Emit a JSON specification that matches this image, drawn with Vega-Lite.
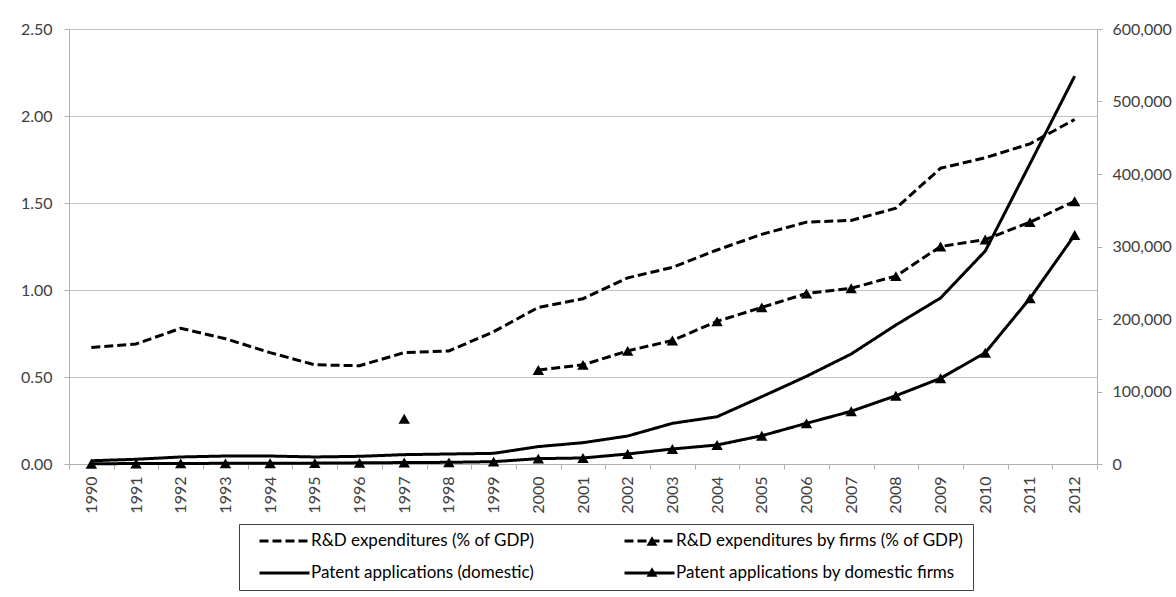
{
  "$schema": "https://vega.github.io/schema/vega-lite/v6.json",
  "width": 1028,
  "height": 435,
  "autosize": {"type": "none"},
  "padding": {"left": 69, "top": 29, "right": 79, "bottom": 133},
  "background": "white",
  "config": {
    "font": "Lato",
    "view": {"stroke": null},
    "axis": {
      "labelFont": "Lato",
      "labelFontSize": 16,
      "labelColor": "#404040",
      "domainColor": "#b0b0b0",
      "tickColor": "#b0b0b0",
      "gridColor": "#c4c4c4",
      "tickSize": 5
    },
    "legend": {"labelFont": "Lato"}
  },
  "data": {
    "values": [
      {"year": "1990", "R&D expenditures (% of GDP)": 0.67, "R&D expenditures by firms (% of GDP)": null, "Patent applications (domestic)": 4500, "Patent applications by domestic firms": 400},
      {"year": "1991", "R&D expenditures (% of GDP)": 0.69, "R&D expenditures by firms (% of GDP)": null, "Patent applications (domestic)": 6500, "Patent applications by domestic firms": 600},
      {"year": "1992", "R&D expenditures (% of GDP)": 0.78, "R&D expenditures by firms (% of GDP)": null, "Patent applications (domestic)": 9700, "Patent applications by domestic firms": 800},
      {"year": "1993", "R&D expenditures (% of GDP)": 0.72, "R&D expenditures by firms (% of GDP)": null, "Patent applications (domestic)": 11000, "Patent applications by domestic firms": 900},
      {"year": "1994", "R&D expenditures (% of GDP)": 0.64, "R&D expenditures by firms (% of GDP)": null, "Patent applications (domestic)": 11000, "Patent applications by domestic firms": 1000},
      {"year": "1995", "R&D expenditures (% of GDP)": 0.57, "R&D expenditures by firms (% of GDP)": null, "Patent applications (domestic)": 9700, "Patent applications by domestic firms": 1200},
      {"year": "1996", "R&D expenditures (% of GDP)": 0.565, "R&D expenditures by firms (% of GDP)": null, "Patent applications (domestic)": 10600, "Patent applications by domestic firms": 1600},
      {"year": "1997", "R&D expenditures (% of GDP)": 0.64, "R&D expenditures by firms (% of GDP)": 0.26, "Patent applications (domestic)": 12900, "Patent applications by domestic firms": 2000},
      {"year": "1998", "R&D expenditures (% of GDP)": 0.65, "R&D expenditures by firms (% of GDP)": null, "Patent applications (domestic)": 13800, "Patent applications by domestic firms": 2300},
      {"year": "1999", "R&D expenditures (% of GDP)": 0.76, "R&D expenditures by firms (% of GDP)": null, "Patent applications (domestic)": 14700, "Patent applications by domestic firms": 3200},
      {"year": "2000", "R&D expenditures (% of GDP)": 0.90, "R&D expenditures by firms (% of GDP)": 0.54, "Patent applications (domestic)": 24000, "Patent applications by domestic firms": 7400},
      {"year": "2001", "R&D expenditures (% of GDP)": 0.95, "R&D expenditures by firms (% of GDP)": 0.57, "Patent applications (domestic)": 29400, "Patent applications by domestic firms": 8300},
      {"year": "2002", "R&D expenditures (% of GDP)": 1.07, "R&D expenditures by firms (% of GDP)": 0.65, "Patent applications (domestic)": 38600, "Patent applications by domestic firms": 13800},
      {"year": "2003", "R&D expenditures (% of GDP)": 1.13, "R&D expenditures by firms (% of GDP)": 0.71, "Patent applications (domestic)": 56100, "Patent applications by domestic firms": 20700},
      {"year": "2004", "R&D expenditures (% of GDP)": 1.23, "R&D expenditures by firms (% of GDP)": 0.82, "Patent applications (domestic)": 65200, "Patent applications by domestic firms": 26200},
      {"year": "2005", "R&D expenditures (% of GDP)": 1.32, "R&D expenditures by firms (% of GDP)": 0.90, "Patent applications (domestic)": 92800, "Patent applications by domestic firms": 39000},
      {"year": "2006", "R&D expenditures (% of GDP)": 1.39, "R&D expenditures by firms (% of GDP)": 0.98, "Patent applications (domestic)": 121000, "Patent applications by domestic firms": 56100},
      {"year": "2007", "R&D expenditures (% of GDP)": 1.40, "R&D expenditures by firms (% of GDP)": 1.01, "Patent applications (domestic)": 151700, "Patent applications by domestic firms": 72700},
      {"year": "2008", "R&D expenditures (% of GDP)": 1.47, "R&D expenditures by firms (% of GDP)": 1.08, "Patent applications (domestic)": 191700, "Patent applications by domestic firms": 94200},
      {"year": "2009", "R&D expenditures (% of GDP)": 1.70, "R&D expenditures by firms (% of GDP)": 1.25, "Patent applications (domestic)": 229000, "Patent applications by domestic firms": 118200},
      {"year": "2010", "R&D expenditures (% of GDP)": 1.76, "R&D expenditures by firms (% of GDP)": 1.29, "Patent applications (domestic)": 293800, "Patent applications by domestic firms": 153500},
      {"year": "2011", "R&D expenditures (% of GDP)": 1.84, "R&D expenditures by firms (% of GDP)": 1.39, "Patent applications (domestic)": 414000, "Patent applications by domestic firms": 228500},
      {"year": "2012", "R&D expenditures (% of GDP)": 1.98, "R&D expenditures by firms (% of GDP)": 1.51, "Patent applications (domestic)": 535000, "Patent applications by domestic firms": 315800}
    ]
  },
  "transform": [
    {"fold": ["R&D expenditures (% of GDP)", "R&D expenditures by firms (% of GDP)", "Patent applications (domestic)", "Patent applications by domestic firms"], "as": ["series", "value"]}
  ],
  "encoding": {
    "x": {
      "field": "year",
      "type": "ordinal",
      "scale": {"type": "band", "paddingInner": 0, "paddingOuter": 0},
      "axis": {"title": null, "labelAngle": -90, "tickBand": "extent", "labelPadding": 7, "grid": false}
    }
  },
  "layer": [
    {
      "transform": [{"filter": {"field": "series", "oneOf": ["R&D expenditures (% of GDP)", "R&D expenditures by firms (% of GDP)"]}}],
      "encoding": {
        "y": {
          "field": "value",
          "type": "quantitative",
          "scale": {"domain": [0, 2.5]},
          "axis": {"title": null, "orient": "left", "values": [0, 0.5, 1, 1.5, 2, 2.5], "format": ".2f", "grid": true, "labelPadding": 12}
        }
      },
      "layer": [
        {
          "mark": {"type": "line", "color": "black", "strokeWidth": 3, "invalid": "break-paths-show-domains"},
          "encoding": {
            "strokeDash": {
              "field": "series",
              "type": "nominal",
              "scale": {
                "domain": ["R&D expenditures (% of GDP)", "R&D expenditures by firms (% of GDP)", "Patent applications (domestic)", "Patent applications by domestic firms"],
                "range": [[9, 4], [9, 4], [1, 0], [1, 0]]
              },
              "legend": {
                "title": null,
                "orient": "none",
                "legendX": 170,
                "legendY": 495,
                "columns": 2,
                "direction": "horizontal",
                "symbolType": "stroke",
                "symbolSize": 2500,
                "symbolStrokeWidth": 3,
                "symbolStrokeColor": "black",
                "symbolOffset": 10,
                "clipHeight": 16,
                "labelFontSize": 17,
                "labelColor": "black",
                "labelOffset": 0,
                "labelLimit": 400,
                "strokeColor": "#404040",
                "padding": 9,
                "columnPadding": 78,
                "rowPadding": 15
              }
            }
          }
        },
        {
          "transform": [{"filter": {"field": "series", "equal": "R&D expenditures by firms (% of GDP)"}}],
          "mark": {"type": "point", "filled": true, "color": "black", "size": 130, "opacity": 1, "invalid": "filter"},
          "encoding": {
            "shape": {
              "field": "series",
              "type": "nominal",
              "scale": {"domain": ["R&D expenditures by firms (% of GDP)", "Patent applications by domestic firms"], "range": ["triangle-up", "triangle-up"]},
              "legend": {
                "title": null,
                "orient": "none",
                "legendX": 575,
                "legendY": 504,
                "direction": "vertical",
                "symbolSize": 120,
                "symbolFillColor": "black",
                "symbolStrokeColor": "black",
                "symbolOpacity": 1,
                "clipHeight": 16,
                "labelExpr": "''",
                "labelFontSize": 16,
                "padding": 0,
                "rowPadding": 15
              }
            }
          }
        }
      ]
    },
    {
      "transform": [{"filter": {"field": "series", "oneOf": ["Patent applications (domestic)", "Patent applications by domestic firms"]}}],
      "encoding": {
        "y": {
          "field": "value",
          "type": "quantitative",
          "scale": {"domain": [0, 600000]},
          "axis": {"title": null, "orient": "right", "values": [0, 100000, 200000, 300000, 400000, 500000, 600000], "format": ",.0f", "grid": false, "labelPadding": 10}
        }
      },
      "layer": [
        {
          "mark": {"type": "line", "color": "black", "strokeWidth": 3},
          "encoding": {"strokeDash": {"field": "series", "type": "nominal"}}
        },
        {
          "transform": [{"filter": {"field": "series", "equal": "Patent applications by domestic firms"}}],
          "mark": {"type": "point", "filled": true, "color": "black", "size": 130, "opacity": 1},
          "encoding": {"shape": {"field": "series", "type": "nominal"}}
        }
      ]
    }
  ],
  "resolve": {"scale": {"y": "independent"}}
}
